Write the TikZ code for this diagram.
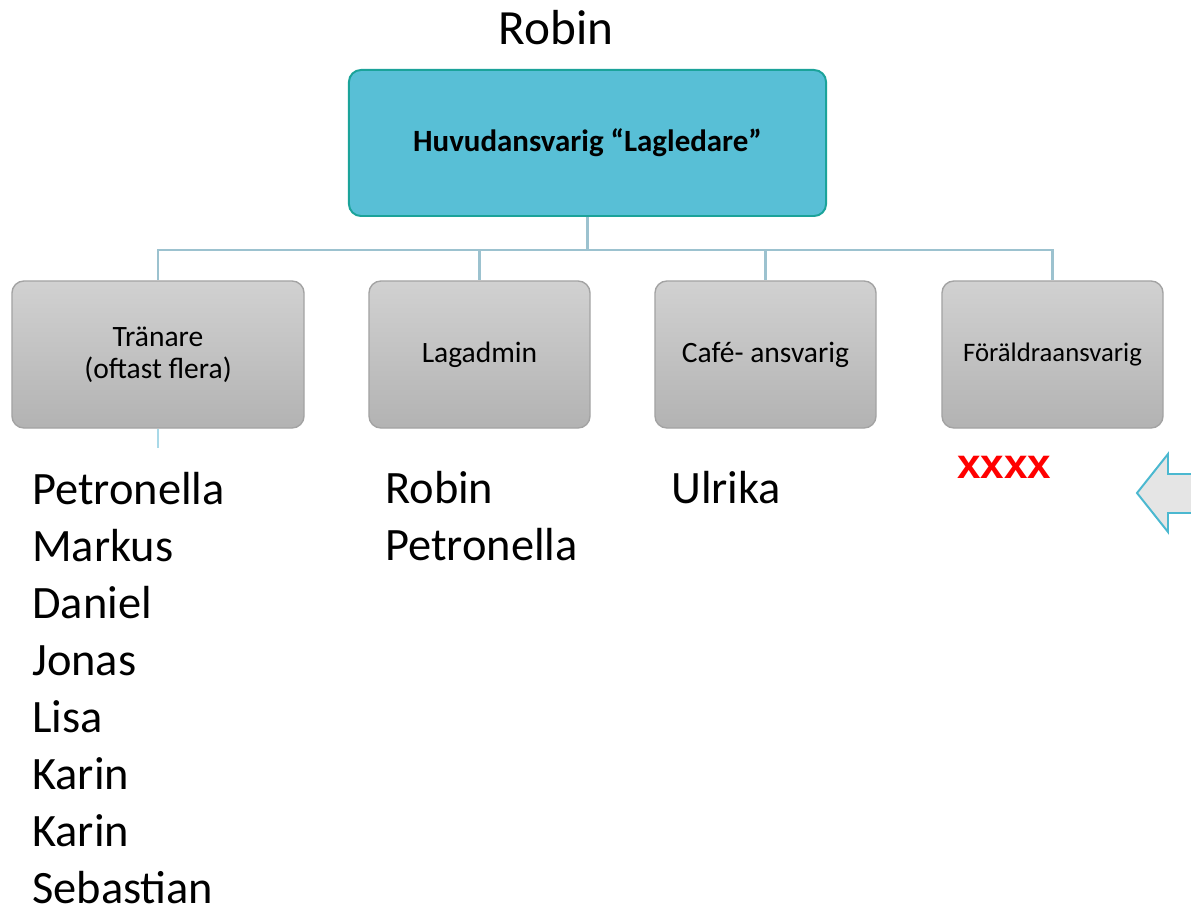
\documentclass[tikz,border=0pt]{standalone}
\usepackage{fontspec}
\setmainfont{Carlito}
\newfontfamily\arialfont{Liberation Sans}
\usepackage{xcolor}
\definecolor{topfill}{HTML}{58BFD6}
\definecolor{topline}{HTML}{1BA39A}
\definecolor{conncol}{HTML}{9CC2CF}
\definecolor{stubcol}{HTML}{A9D9E8}
\definecolor{boxline}{HTML}{A3A3A3}
\definecolor{arrowline}{HTML}{4BB8D0}

\begin{document}
\begin{tikzpicture}[x=0.025cm,y=-0.025cm,
  headbox/.style={draw=topline,line width=1.4pt,fill=topfill,rounded corners=0.3cm,
    minimum width=11.925cm,minimum height=3.65cm,font=\bfseries\fontsize{22}{24}\selectfont},
  rolebox/.style={draw=boxline,line width=1pt,top color=black!18,bottom color=black!30,
    rounded corners=0.3cm,minimum width=5.525cm,minimum height=3.675cm,align=center,
    font=\fontsize{21}{23}\selectfont},
  conn/.style={draw=conncol,line width=1.8pt},
  names/.style={anchor=base west,inner sep=0pt,align=left,font=\fontsize{33}{40.5}\selectfont}]
\clip (0,0) rectangle (1191,911);

\node[anchor=base,inner sep=0pt,font=\fontsize{35}{40}\selectfont] (leader) at (556,45) {Robin};
\node[headbox] (top) at (587.5,143) {Huvudansvarig “Lagledare”};

\node[rolebox,minimum width=7.3cm] (tran) at (158,354.5) {Tränare\\(oftast flera)};
\node[rolebox] (lagadmin) at (479.5,354.5) {Lagadmin};
\node[rolebox] (cafe) at (765.5,354.5) {Café- ansvarig};
\node[rolebox,font=\fontsize{19}{21}\selectfont] (foralder) at (1052.5,354.5) {Föräldraansvarig};

\draw[conn] (top.south) -- ++(0,33) -| (tran.north);
\draw[conn] (top.south) -- ++(0,33) -| (lagadmin.north);
\draw[conn] (top.south) -- ++(0,33) -| (cafe.north);
\draw[conn] (top.south) -- ++(0,33) -| (foralder.north);
\coordinate (stub) at (158,448);
\draw[conn,draw=stubcol] (tran.south) -- (stub);

% listorna: base = sista radens baslinje
\node[names] (tranlist) at (32,903) {Petronella\\Markus\\Daniel\\Jonas\\Lisa\\Karin\\Karin\\Sebastian};
\node[names] (adminlist) at (385,560) {Robin\\Petronella};
\node[names] (cafelist) at (671,503) {Ulrika};
\node[anchor=base west,inner sep=0pt,text=red,font=\arialfont\bfseries\fontsize{30}{34}\selectfont] (vacant) at (957,479) {xxxx};

% pil in fran hoger
\draw[draw=arrowline,line width=1.4pt,fill=black!10] (1137,493) -- (1168,454) -- (1168,474) -- (1230,474)
  -- (1230,513) -- (1168,513) -- (1168,532) -- cycle;
\end{tikzpicture}
\end{document}
